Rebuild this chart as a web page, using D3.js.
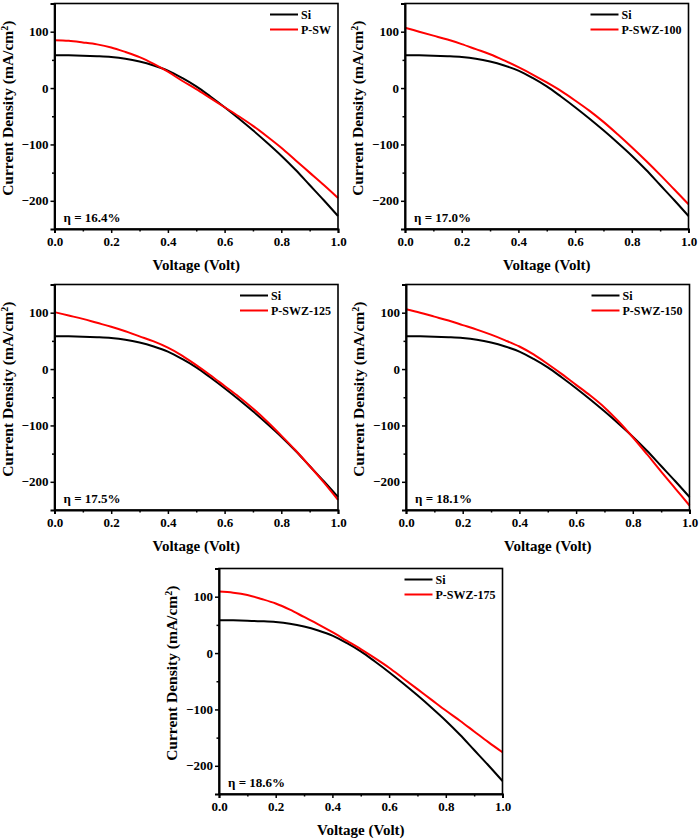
<!DOCTYPE html>
<html>
<head>
<meta charset="utf-8">
<script src="https://cdn.jsdelivr.net/npm/d3@7"></script>
<style>
  body { margin: 0; background: #fff; }
  svg { display: block; }
  text { font-family: "Liberation Serif", "Times New Roman", serif; font-weight: bold; fill: #000; }
</style>
</head>
<body>
<svg id="chart" width="700" height="838"></svg>
<script>
// ---- data ----
const voltage = [0, 0.05, 0.1, 0.15, 0.2, 0.25, 0.3, 0.35, 0.4, 0.45, 0.5, 0.55, 0.6, 0.65, 0.7, 0.75, 0.8, 0.85, 0.9, 0.95, 1.0];
const si       = [58, 58, 57.5, 56.5, 55, 52, 47, 40, 31, 18, 3, -15, -34, -54, -75, -97, -120, -145, -172, -199, -227];
const pSW      = [85, 84, 81, 77.5, 72, 64, 55, 43, 29, 13, -2, -18, -34, -50, -67, -86, -106, -128, -150, -172, -195];
const pSWZ100  = [107, 100, 93, 86, 78, 69, 60, 49, 37, 24, 10, -5, -22, -40, -60, -82, -105, -129, -154, -180, -206];
const pSWZ125  = [101, 95, 89, 82, 75, 67, 58, 49, 38, 24, 7, -11, -30, -49, -70, -93, -118, -144, -172, -201, -232];
const pSWZ150  = [106, 100, 93, 86, 78, 70, 61, 51, 40, 26, 9, -9, -28, -47, -68, -93, -121, -151, -182, -212, -242];
const pSWZ175  = [109, 107, 103, 96, 88, 77, 64, 51, 37, 22, 7, -9, -26, -45, -64, -83, -102, -120, -139, -158, -176];
const sampleNames = ["P-SW", "P-SWZ-100", "P-SWZ-125", "P-SWZ-150", "P-SWZ-175"];
const sampleSeries = [pSW, pSWZ100, pSWZ125, pSWZ150, pSWZ175];
const efficiencies = ["η = 16.4%", "η = 17.0%", "η = 17.5%", "η = 18.1%", "η = 18.6%"];
const xTicks = [0, 0.2, 0.4, 0.6, 0.8, 1.0];
const xMinorTicks = [0.1, 0.3, 0.5, 0.7, 0.9];
const yTicks = [-200, -100, 0, 100];
const yMinorTicks = [-150, -50, 50];
const xDomain = [0, 1];
const yDomain = [-250, 150];

// ---- layout ----
const panels = [
  { left: 54.5, top: 3.5, w: 283.5, h: 225.5 },
  { left: 405, top: 3.5, w: 283.5, h: 225.5 },
  { left: 54.5, top: 284.5, w: 283.5, h: 225.5 },
  { left: 406, top: 284.5, w: 283.5, h: 225.5 },
  { left: 219, top: 568.5, w: 283.5, h: 225.5 }
];

const svg = d3.select("#chart");
svg.append("rect").attr("width", 700).attr("height", 838).attr("fill", "#fff");

panels.forEach((p, i) => {
  const g = svg.append("g").attr("transform", `translate(${p.left},${p.top})`);
  const x = d3.scaleLinear().domain(xDomain).range([0, p.w]);
  const y = d3.scaleLinear().domain(yDomain).range([p.h, 0]);

  // curves
  const line = d3.line()
    .x((d, k) => x(voltage[k]))
    .y(d => y(d))
    .curve(d3.curveCatmullRom.alpha(0.5));
  g.append("path").datum(si).attr("d", line)
    .attr("fill", "none").attr("stroke", "#000").attr("stroke-width", 2);
  g.append("path").datum(sampleSeries[i]).attr("d", line)
    .attr("fill", "none").attr("stroke", "#ff0000").attr("stroke-width", 2);

  // frame
  g.append("rect").attr("x", 0).attr("y", 0).attr("width", p.w).attr("height", p.h)
    .attr("fill", "none").attr("stroke", "#000").attr("stroke-width", 1.6);

  // x axis
  const xAxis = g.append("g").attr("transform", `translate(0,${p.h})`)
    .call(d3.axisBottom(x).tickValues(xTicks).tickFormat(d3.format(".1f")).tickSize(4).tickPadding(4));
  xAxis.select(".domain").attr("stroke-width", 2);
  xAxis.selectAll(".tick line").attr("stroke-width", 1.5);
  const xMinor = g.append("g").attr("transform", `translate(0,${p.h})`)
    .call(d3.axisBottom(x).tickValues(xMinorTicks).tickSize(2.5).tickFormat(""));
  xMinor.select(".domain").remove();
  xMinor.selectAll(".tick line").attr("stroke-width", 1.5);

  // y axis
  const yAxis = g.append("g")
    .call(d3.axisLeft(y).tickValues(yTicks).tickSize(4).tickPadding(2));
  yAxis.select(".domain").attr("stroke-width", 2);
  yAxis.selectAll(".tick line").attr("stroke-width", 1.5);
  const yMinor = g.append("g")
    .call(d3.axisLeft(y).tickValues(yMinorTicks).tickSize(2.5).tickFormat(""));
  yMinor.select(".domain").remove();
  yMinor.selectAll(".tick line").attr("stroke-width", 1.5);

  g.selectAll(".tick text")
    .attr("font-family", null).attr("font-size", null)
    .style("font-size", "13px");

  // axis titles
  g.append("text")
    .attr("x", p.w / 2).attr("y", p.h + 41)
    .attr("text-anchor", "middle")
    .style("font-size", "15px")
    .text("Voltage (Volt)");
  const yt = g.append("text")
    .attr("transform", `translate(-42,${p.h / 2 - 8}) rotate(-90)`)
    .attr("text-anchor", "middle")
    .style("font-size", "15.5px");
  yt.append("tspan").text("Current Density (mA/cm");
  yt.append("tspan").attr("dy", -5).style("font-size", "10px").text("2");
  yt.append("tspan").attr("dy", 5).text(")");

  // efficiency
  g.append("text")
    .attr("x", 9).attr("y", p.h - 7)
    .style("font-size", "13px")
    .text(efficiencies[i]);

  // legend
  const leg = g.append("g");
  const labels = ["Si", sampleNames[i]];
  const colors = ["#000", "#ff0000"];
  const texts = labels.map((t, k) => leg.append("text")
    .attr("y", 11 + k * 15).attr("dy", "0.35em")
    .style("font-size", "12px").text(t));
  const maxW = d3.max(texts, t => t.node().getComputedTextLength());
  const tx = p.w - 7 - maxW;
  texts.forEach(t => t.attr("x", tx));
  labels.forEach((t, k) => {
    leg.append("line")
      .attr("x1", tx - 31).attr("x2", tx - 3)
      .attr("y1", 11 + k * 15).attr("y2", 11 + k * 15)
      .attr("stroke", colors[k]).attr("stroke-width", 2);
  });
});
</script>
</body>
</html>
